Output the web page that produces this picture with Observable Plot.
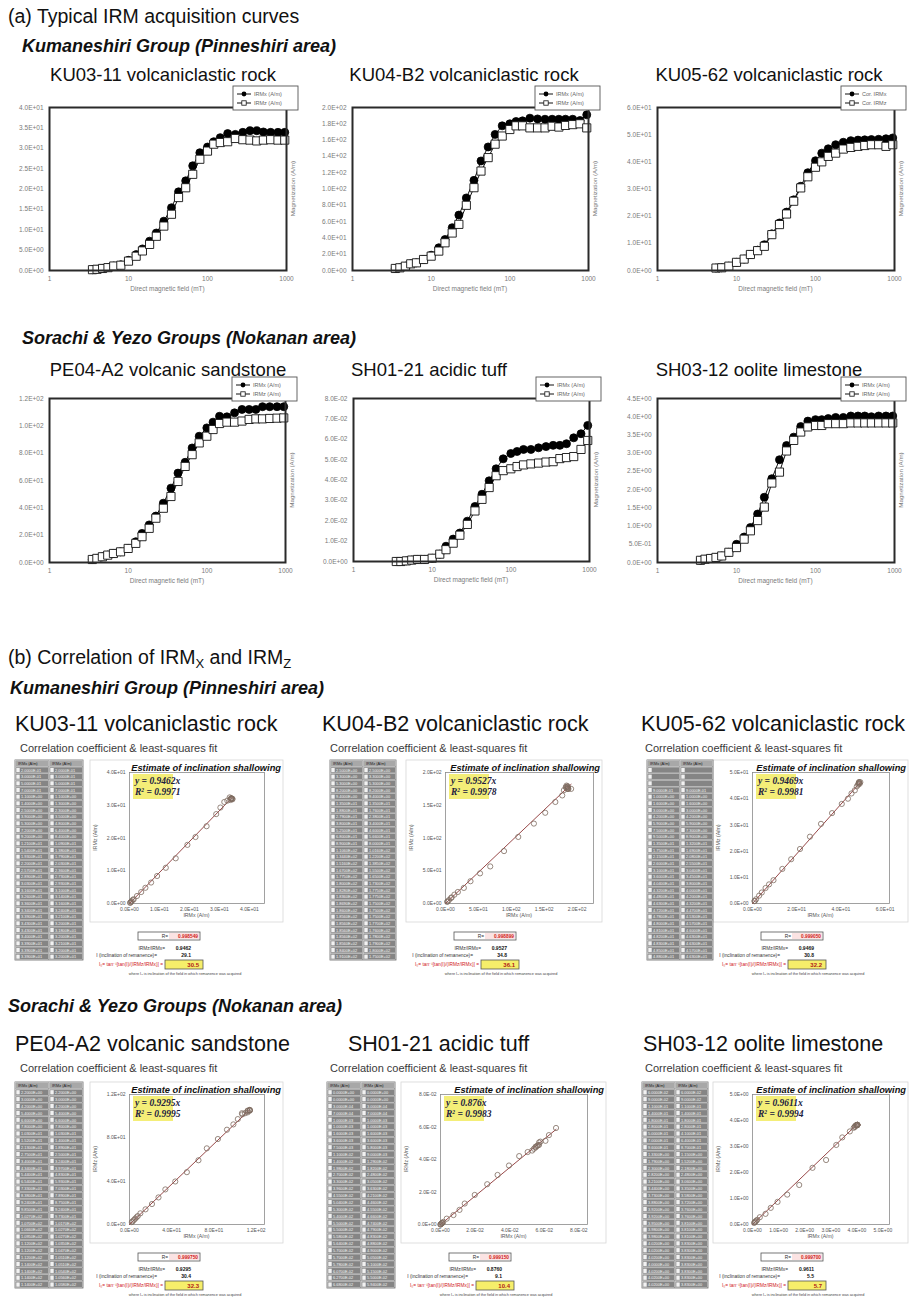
<!DOCTYPE html>
<html><head><meta charset="utf-8">
<script src="https://cdn.jsdelivr.net/npm/d3@7"></script>
<script src="https://cdn.jsdelivr.net/npm/@observablehq/plot@0.6"></script>
<style>
body{margin:0;background:#fff;}
#root{position:relative;width:910px;height:1298px;overflow:hidden;background:#fff;font-family:"Liberation Sans",Arial,sans-serif;}
#ov{position:absolute;left:0;top:0;pointer-events:none;}
</style></head>
<body><div id="root"></div>
<script>
// ---------------- DATA ----------------
const fields = [3.5,4,4.7,5.5,6.5,8,10,12.5,15,18.5,22.5,28,35,43,53,65,80,100,120,145,180,225,280,345,420,510,630,780,950];
const sampleIds = ["KU03-11","KU04-B2","KU05-62","PE04-A2","SH01-21","SH03-12"];
const rockTypes = ["volcaniclastic rock","volcaniclastic rock","volcaniclastic rock","volcanic sandstone","acidic tuff","oolite limestone"];
const legendX = ["IRMx (A/m)","IRMx (A/m)","Cor. IRMx","IRMx (A/m)","IRMx (A/m)","IRMx (A/m)"];
const legendZ = ["IRMz (A/m)","IRMz (A/m)","Cor. IRMz","IRMz (A/m)","IRMz (A/m)","IRMz (A/m)"];

const ku03X = [0.2,0.3,0.5,0.7,1.1,1.4,2.5,3.9,5.3,7.2,9.2,12.1,15.4,19.3,22.0,25.7,28.9,30.3,31.6,32.6,33.6,33.4,33.9,34.3,34.3,34.0,33.9,33.9,33.9];
const ku03Z = [0.2,0.3,0.5,0.7,1.1,1.3,2.3,3.5,4.8,6.4,8.4,10.9,13.8,17.9,20.3,23.6,27.3,29.3,31.0,31.4,31.6,32.4,32.1,32.0,31.8,32.0,32.1,32.0,32.0];
const ku04X = [2.5,3.3,5.3,8.2,9.4,13.5,18.8,27.9,38,52.5,68,89,110.6,134.4,151.6,167,177.5,180,182.8,183.6,186.9,186,185.6,185.6,185.6,185.6,185.6,184,191];
const ku04Z = [2.5,3.3,5.3,8.2,9.4,13.5,17.6,23.8,34,46,56.6,80,101.6,122,138.5,155,165,173,177.5,177.5,175,175,175,177,176,178,179,180,175];
const ku05X = [null,null,null,0.9,1.0,1.6,3.0,4.2,5.9,7.5,9.5,13.5,17.5,21.5,26,31,36,40.4,43.2,44.8,46.3,47.2,47.8,48,48.1,48.2,48.3,48.5,48.8];
const ku05Z = [null,null,null,0.9,1.0,1.6,3.0,4.2,5.9,7.3,8.9,13.2,16.9,20.8,25.5,30.4,34.5,38,40,42,43.2,44.7,45.3,45.7,46,46.3,46.3,45.7,46.3];
const pe04X = [2.2,3,4.2,5.4,6.6,7.8,10.3,15.2,21.3,27.5,34,43.4,54.4,65.4,73.3,83.8,92.4,98.5,102.7,107,106.6,109.5,112,112,112,114,114,114,114];
const pe04Z = [2.2,3,4.2,5.4,6.6,7.8,10.3,14,18.9,25,32.4,39.7,48.3,59.3,70.3,78.9,87.5,92.4,97.3,101.7,102.7,102.7,103.5,104.7,105.1,105.1,105.4,105.6,105.8];
const sh01X = [0,0,0.0003,0.0007,0.001,0.001,0.0016,0.0036,0.0075,0.011,0.014,0.0198,0.027,0.033,0.0396,0.0455,0.0504,0.053,0.054,0.055,0.055,0.0558,0.0564,0.057,0.057,0.0578,0.0607,0.0627,0.0668];
const sh01Z = [0,0,0.0003,0.0007,0.001,0.001,0.0016,0.0036,0.0058,0.009,0.0129,0.0182,0.0248,0.0305,0.0363,0.0421,0.0446,0.0455,0.0466,0.0474,0.0479,0.0483,0.0488,0.049,0.0505,0.051,0.0515,0.055,0.0594];
const sh03X = [0.06,0.09,0.11,0.14,0.18,0.28,0.5,0.7,0.96,1.33,1.79,2.3,2.82,3.21,3.44,3.73,3.88,3.92,3.92,3.95,3.98,3.98,4.02,4.02,4.02,4.0,4.02,4.02,4.02];
const sh03Z = [0.06,0.09,0.11,0.14,0.18,0.28,0.41,0.64,0.87,1.15,1.52,2.18,2.48,3.06,3.35,3.58,3.72,3.76,3.76,3.81,3.81,3.81,3.83,3.83,3.83,3.83,3.83,3.83,3.83];

const ku03Ticks = [0,5,10,15,20,25,30,35,40];
const ku04Ticks = [0,20,40,60,80,100,120,140,160,180,200];
const ku05Ticks = [0,10,20,30,40,50,60];
const pe04Ticks = [0,20,40,60,80,100,120];
const sh01Ticks = [0,0.01,0.02,0.03,0.04,0.05,0.06,0.07,0.08];
const sh03Ticks = [0,0.5,1,1.5,2,2.5,3,3.5,4,4.5];
const fieldTicks = [1,10,100,1000];

const corrXTicks = [[0,10,20,30,40],[0,50,100,150,200],[0,20,40,60],[0,40,80,120],[0,0.02,0.04,0.06,0.08],[0,1,2,3,4,5]];
const corrYTicks = [[0,10,20,30,40],[0,50,100,150,200],[0,10,20,30,40,50],[0,40,80,120],[0,0.02,0.04,0.06,0.08],[0,1,2,3,4,5]];
const corrXMax = [45,225,62,128,0.085,5.25];
const slopes = [0.9462,0.9527,0.9469,0.9295,0.876,0.9611];
const r2Vals = ["0.9971","0.9978","0.9981","0.9995","0.9983","0.9994"];
const rVals = ["0.998549","0.998899","0.999050","0.999750","0.999150","0.999700"];
const ratioVals = ["0.9462","0.9527","0.9469","0.9295","0.8760","0.9611"];
const inclVals = ["29.1","34.8","30.8","30.4","9.1","5.5"];
const ioVals = ["30.5","36.1","32.2","32.3","10.4","5.7"];

const seriesX = [ku03X,ku04X,ku05X,pe04X,sh01X,sh03X];
const seriesZ = [ku03Z,ku04Z,ku05Z,pe04Z,sh01Z,sh03Z];
const irmTicks = [ku03Ticks,ku04Ticks,ku05Ticks,pe04Ticks,sh01Ticks,sh03Ticks];

// ---------------- LAYOUT ----------------
const irmLayout = [
  {fl:49, fr:286, ft:107, fb:270, tc:163, ty:81},
  {fl:352, fr:588, ft:107, fb:270, tc:464, ty:81},
  {fl:657, fr:894, ft:107, fb:270, tc:769, ty:81},
  {fl:49, fr:285, ft:398, fb:562, tc:168, ty:376},
  {fl:353, fr:589, ft:398, fb:561, tc:429, ty:376},
  {fl:657, fr:894, ft:398, fb:562, tc:759, ty:376}
];
const corrLayout = [
  {fl:129, fr:264, ft:772, fb:903, tx:15, tw:68, tt:760, tb:960, titX:15, titY:731, subX:20, subY:752, estR:281},
  {fl:445, fr:593, ft:772, fb:903, tx:330, tw:66, tt:760, tb:960, titX:322, titY:731, subX:330, subY:752, estR:600},
  {fl:752, fr:889, ft:772, fb:903, tx:647, tw:66, tt:760, tb:960, titX:641, titY:731, subX:645, subY:752, estR:906},
  {fl:129, fr:264, ft:1094, fb:1224, tx:15, tw:68, tt:1082, tb:1288, titX:15, titY:1051, subX:20, subY:1072, estR:281},
  {fl:440, fr:587, ft:1094, fb:1224, tx:327, tw:68, tt:1082, tb:1288, titX:348, titY:1051, subX:330, subY:1072, estR:604},
  {fl:752, fr:889, ft:1094, fb:1224, tx:642, tw:66, tt:1082, tb:1288, titX:643, titY:1051, subX:645, subY:1072, estR:906}
];

const SANS = "Liberation Sans, Arial, sans-serif";
const SERIF = "Liberation Serif, Times New Roman, serif";

function sci(d, digits) {
  if (d === 0) return (0).toFixed(digits) + "E+00";
  let e = Math.floor(Math.log10(Math.abs(d)) + 1e-9);
  let m = d / Math.pow(10, e);
  if (Math.abs(m) >= 9.99995) { m /= 10; e += 1; }
  return m.toFixed(digits) + "E" + (e < 0 ? "-" : "+") + String(Math.abs(e)).padStart(2, "0");
}

const root = document.getElementById("root");
function place(svg, left, top) {
  svg.style.position = "absolute";
  svg.style.left = left + "px";
  svg.style.top = top + "px";
  svg.style.maxWidth = "none";
  svg.style.background = "transparent";
  root.appendChild(svg);
}

// ---------------- IRM ACQUISITION CHARTS ----------------
irmLayout.forEach((L, k) => {
  const rows = fields.map((f, i) => ({f, x: seriesX[k][i], z: seriesZ[k][i]}));
  const ticks = irmTicks[k];
  const mL = 49, mR = 20, mT = 20, mB = 30;
  const svg = Plot.plot({
    width: L.fr - L.fl + mL + mR,
    height: L.fb - L.ft + mT + mB,
    marginLeft: mL, marginRight: mR, marginTop: mT, marginBottom: mB,
    style: {fontFamily: SANS, fontSize: "6.5px", color: "#7a7a7a", background: "transparent", overflow: "visible"},
    x: {type: "log", domain: [1, 1000], ticks: fieldTicks, tickFormat: d => String(d), tickSize: 0, tickPadding: 6, label: null},
    y: {domain: [0, d3.max(ticks)], ticks: ticks, tickFormat: d => sci(d, 1), tickSize: 0, tickPadding: 6, label: null},
    marks: [
      Plot.line(rows, {x: "f", y: "x", stroke: "#111", strokeWidth: 1}),
      Plot.line(rows, {x: "f", y: "z", stroke: "#111", strokeWidth: 1}),
      Plot.dot(rows, {x: "f", y: "x", r: 4, fill: "#000", stroke: "#000", strokeWidth: 0.8}),
      Plot.dot(rows, {x: "f", y: "z", symbol: "square", r: 4.6, fill: "#fff", stroke: "#111", strokeWidth: 0.9}),
      Plot.frame({stroke: "#2a2a2a", strokeWidth: 2})
    ]
  });
  place(svg, L.fl - mL, L.ft - mT);
});

// ---------------- CORRELATION CHARTS ----------------
corrLayout.forEach((L, k) => {
  const pairs = fields.map((f, i) => ({x: seriesX[k][i], z: seriesZ[k][i]})).filter(d => d.x != null && d.z != null);
  const xEnd = d3.max(pairs, d => d.x);
  const fit = [{x: 0, y: 0}, {x: xEnd, y: slopes[k] * xEnd}];
  const mL = 36, mR = 6, mT = 6, mB = 16;
  const svg = Plot.plot({
    width: L.fr - L.fl + mL + mR,
    height: L.fb - L.ft + mT + mB,
    marginLeft: mL, marginRight: mR, marginTop: mT, marginBottom: mB,
    style: {fontFamily: SANS, fontSize: "5px", color: "#555", background: "transparent", overflow: "visible"},
    x: {domain: [0, corrXMax[k]], ticks: corrXTicks[k], tickFormat: d => sci(d, 1), tickSize: 0, tickPadding: 4, label: null},
    y: {domain: [0, d3.max(corrYTicks[k])], ticks: corrYTicks[k], tickFormat: d => sci(d, 1), tickSize: 0, tickPadding: 4, label: null},
    marks: [
      Plot.frame({stroke: "#8a8a8a", strokeWidth: 0.8}),
      Plot.line(fit, {x: "x", y: "y", stroke: "#8c3434", strokeWidth: 0.9}),
      Plot.dot(pairs, {x: "x", y: "z", r: 2.6, fill: "none", stroke: "#7d6b60", strokeWidth: 0.8})
    ]
  });
  place(svg, L.fl - mL, L.ft - mT);
});

// ---------------- OVERLAY TEXT ----------------
const S = [];
const esc = s => String(s).replace(/&/g, "&amp;").replace(/</g, "&lt;");
function text(x, y, s, a = {}) {
  S.push(`<text x="${x}" y="${y}" font-size="${a.size || 10}" text-anchor="${a.anchor || "start"}" font-weight="${a.weight || "normal"}" font-style="${a.italic ? "italic" : "normal"}" fill="${a.fill || "#111"}" font-family="${a.family || SANS}"${a.rot ? ` transform="rotate(${a.rot} ${x} ${y})"` : ""}>${a.raw ? s : esc(s)}</text>`);
}
function rect(x, y, w, h, a = {}) {
  S.push(`<rect x="${x}" y="${y}" width="${w}" height="${h}" fill="${a.fill || "none"}" stroke="${a.stroke || "none"}" stroke-width="${a.sw || 1}"/>`);
}
function line(x1, y1, x2, y2, a = {}) {
  S.push(`<line x1="${x1}" y1="${y1}" x2="${x2}" y2="${y2}" stroke="${a.stroke || "#111"}" stroke-width="${a.sw || 1}"/>`);
}

// headings
text(8, 23, "(a) Typical IRM acquisition curves", {size: 19.5});
text(22, 52, "Kumaneshiri Group (Pinneshiri area)", {size: 18, weight: "bold", italic: true});
text(22, 344, "Sorachi &amp; Yezo Groups (Nokanan area)", {size: 18, weight: "bold", italic: true, raw: true});
text(8, 664, `(b) Correlation of IRM<tspan font-size="13" dy="4">X</tspan><tspan dy="-4"> and IRM</tspan><tspan font-size="13" dy="4">Z</tspan>`, {size: 19.5, raw: true});
text(10, 694, "Kumaneshiri Group (Pinneshiri area)", {size: 18, weight: "bold", italic: true});
text(8, 1012, "Sorachi &amp; Yezo Groups (Nokanan area)", {size: 18, weight: "bold", italic: true, raw: true});

// IRM chart decorations
irmLayout.forEach((L, k) => {
  text(L.tc, L.ty, `${sampleIds[k]} ${rockTypes[k]}`, {size: 18.5, anchor: "middle"});
  text((L.fl + L.fr) / 2, L.fb + 21, "Direct magnetic field (mT)", {size: 6.5, anchor: "middle", fill: "#7a7a7a"});
  text(L.fr + 9, (L.ft + L.fb) / 2, "Magnetization (A/m)", {size: 6.2, anchor: "middle", fill: "#7a7a7a", rot: -90});
  const lx = L.fr - 53, ly = L.ft - 21;
  rect(lx, ly, 65, 24, {fill: "#fff", stroke: "#555", sw: 0.9});
  line(lx + 4, ly + 8, lx + 18, ly + 8, {sw: 1});
  S.push(`<circle cx="${lx + 11}" cy="${ly + 8}" r="2.4" fill="#000"/>`);
  text(lx + 21, ly + 10, legendX[k], {size: 5.5, fill: "#666"});
  line(lx + 4, ly + 17, lx + 18, ly + 17, {sw: 1});
  rect(lx + 8.8, ly + 14.8, 4.4, 4.4, {fill: "#fff", stroke: "#111", sw: 0.8});
  text(lx + 21, ly + 19, legendZ[k], {size: 5.5, fill: "#666"});
});

// Correlation panel decorations
corrLayout.forEach((L, k) => {
  text(L.titX, L.titY, `${sampleIds[k]} ${rockTypes[k]}`, {size: 21.5});
  text(L.subX, L.subY, "Correlation coefficient & least-squares fit", {size: 11, fill: "#3a3a3a"});
  rect(L.fl - 39, L.ft - 12, L.estR - L.fl + 41, L.fb - L.ft + 31, {stroke: "#d6d6d6", sw: 0.8});
  text(L.estR, L.ft - 1, "Estimate of inclination shallowing", {size: 9.3, weight: "bold", italic: true, anchor: "end"});
  rect(L.fl + 4, L.ft + 2, 40, 25, {fill: "#f4ee78"});
  text(L.fl + 6, L.ft + 12, `y = ${slopes[k]}x`, {size: 9.5, weight: "bold", italic: true, family: SERIF, fill: "#202040"});
  text(L.fl + 6, L.ft + 23, `R<tspan font-size="5.5" dy="-3.5">2</tspan><tspan dy="3.5"> = ${r2Vals[k]}</tspan>`, {size: 9.5, weight: "bold", italic: true, family: SERIF, fill: "#202040", raw: true});
  text(L.fl - 32, (L.ft + L.fb) / 2, "IRMz (A/m)", {size: 5.2, anchor: "middle", fill: "#555", rot: -90});
  text((L.fl + L.fr) / 2, L.fb + 14, "IRMx (A/m)", {size: 5.2, anchor: "middle", fill: "#555"});
  // results block
  const bx = L.fl, by = L.fb;
  rect(bx + 9, by + 29, 62, 8, {fill: "#fff", stroke: "#555", sw: 0.8});
  rect(bx + 40, by + 30, 30, 6, {fill: "#fbe3e3"});
  text(bx + 39, by + 35.2, "R=", {size: 4.8, anchor: "end", fill: "#333"});
  text(bx + 69, by + 35.2, rVals[k], {size: 4.8, anchor: "end", fill: "#d02020", weight: "bold"});
  text(bx + 36, by + 47, "IRMz/IRMx=", {size: 4.8, anchor: "end", fill: "#333"});
  text(bx + 62, by + 47, ratioVals[k], {size: 5, anchor: "end", fill: "#111", weight: "bold"});
  text(bx + 28, by + 54, "I (inclination of remanence)=", {size: 4.8, anchor: "end", fill: "#333"});
  text(bx + 62, by + 54, inclVals[k], {size: 5, anchor: "end", fill: "#111", weight: "bold"});
  text(bx + 34, by + 63, "I\u2080= tan\u207B\u00B9[tan(I)/(IRMz/IRMx)] =", {size: 4.8, anchor: "end", fill: "#d02020"});
  rect(bx + 36, by + 57, 38, 9, {fill: "#f6ee6a", stroke: "#555", sw: 0.8});
  text(bx + 70, by + 63.8, ioVals[k], {size: 6, anchor: "end", fill: "#b01818", weight: "bold"});
  text(bx + 56, by + 72, "where I\u2080 is inclination of the field in which remanence was acquired", {size: 3.8, anchor: "middle", fill: "#444"});
  // data table
  const n = fields.length + 1, rh = (L.tb - L.tt) / n, cw = L.tw / 2;
  rect(L.tx, L.tt, L.tw, L.tb - L.tt, {fill: "#8a8a8a", stroke: "#6a6a6a", sw: 0.8});
  for (let r = 0; r < n; r++) {
    for (let c = 0; c < 2; c++) {
      const x = L.tx + c * cw, y = L.tt + r * rh;
      rect(x + 0.4, y + 0.4, cw - 0.8, rh - 0.8, {fill: r === 0 ? "#a8a8a8" : "#858585", stroke: "#d8d8d8", sw: 0.5});
      let s;
      if (r === 0) s = c === 0 ? "IRMx (A/m)" : "IRMz (A/m)";
      else {
        const v = (c === 0 ? seriesX[k] : seriesZ[k])[r - 1];
        s = v == null ? "" : sci(v, 4);
        rect(x + 1.3, y + 1.3, 3.4, rh - 2.6, {fill: "#f2f2f2"});
      }
      text(x + (r === 0 ? 3 : 6), y + rh - 1.7, s, {size: 3.9, fill: r === 0 ? "#222" : "#f5f5f5"});
    }
  }
});

const ov = document.createElementNS("http://www.w3.org/2000/svg", "svg");
ov.setAttribute("id", "ov");
ov.setAttribute("width", 910);
ov.setAttribute("height", 1298);
ov.innerHTML = S.join("");
root.appendChild(ov);
</script>
</body></html>
